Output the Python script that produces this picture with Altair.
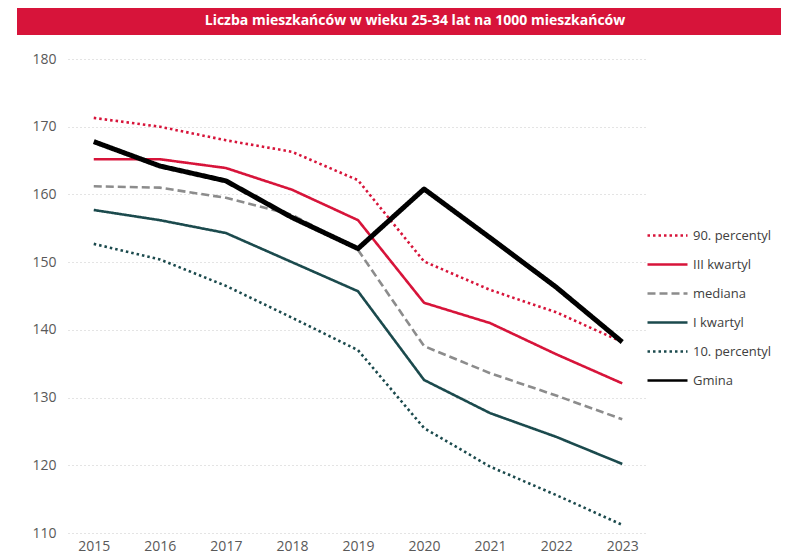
import altair as alt
import pandas as pd

years = [2015, 2016, 2017, 2018, 2019, 2020, 2021, 2022, 2023]
series_names = ["90. percentyl", "III kwartyl", "mediana", "I kwartyl", "10. percentyl", "Gmina"]

p90 = [171.3, 170.0, 168.0, 166.3, 162.1, 150.1, 145.9, 142.6, 138.2]
q3 = [165.2, 165.2, 163.9, 160.7, 156.2, 144.0, 141.0, 136.4, 132.1]
median = [161.2, 161.0, 159.5, 157.0, 151.8, 137.6, 133.6, 130.3, 126.8]
q1 = [157.7, 156.2, 154.3, 150.0, 145.7, 132.6, 127.7, 124.2, 120.2]
p10 = [152.7, 150.4, 146.5, 141.8, 137.0, 125.5, 119.8, 115.6, 111.2]
gmina = [167.8, 164.2, 162.0, 156.6, 152.0, 160.8, 153.6, 146.3, 138.2]

title_text = "Liczba mieszkańców w wieku 25-34 lat na 1000 mieszkańców"

rows = []
for name, vals in zip(series_names, [p90, q3, median, q1, p10, gmina]):
    for y, v in zip(years, vals):
        rows.append({"rok": str(y), "seria": name, "wartosc": v})
df = pd.DataFrame(rows)

RED = "#d7143a"
TEAL = "#1b4a4d"
GRAY = "#8c8c8c"

colors = [RED, RED, GRAY, TEAL, TEAL, "#000000"]
dashes = [[2.5, 3], [1, 0], [8, 4], [1, 0], [2.5, 3], [1, 0]]

legend_kw = dict(title=None, orient="none", legendX=578, legendY=155,
                 symbolType="stroke", symbolSize=1600, symbolStrokeWidth=2.6,
                 labelFontSize=13, labelColor="#404040", labelFont="Open Sans",
                 labelOffset=4, rowPadding=0)

lines = alt.Chart(df).mark_line(strokeCap="butt", strokeJoin="round").encode(
    x=alt.X("rok:O", scale=alt.Scale(type="point", padding=0.39),
            axis=alt.Axis(title=None, labelAngle=0, domain=False, ticks=False,
                          grid=False, labelFontSize=14, labelColor="#595959",
                          labelFont="Open Sans", labelPadding=6)),
    y=alt.Y("wartosc:Q", scale=alt.Scale(domain=[110, 180], nice=False, zero=False),
            axis=alt.Axis(title=None, values=[110, 120, 130, 140, 150, 160, 170, 180],
                          domain=False, ticks=False, grid=True, gridColor="#c8c8c8",
                          gridDash=[1, 3], gridWidth=1, labelFontSize=14,
                          labelColor="#595959", labelFont="Open Sans", labelPadding=12,
                          minExtent=60, maxExtent=60)),
    color=alt.Color("seria:N", scale=alt.Scale(domain=series_names, range=colors),
                    legend=alt.Legend(**legend_kw)),
    strokeDash=alt.StrokeDash("seria:N", scale=alt.Scale(domain=series_names, range=dashes),
                              legend=alt.Legend(**legend_kw)),
    strokeWidth=alt.condition(alt.datum.seria == "Gmina", alt.value(5), alt.value(2.6)),
)

banner_df = pd.DataFrame({"t": [title_text]})
banner = alt.Chart(banner_df).mark_rect(color=RED).encode(
    x=alt.value(-51), x2=alt.value(713), y=alt.value(-51), y2=alt.value(-24)
)
banner_text = alt.Chart(banner_df).mark_text(
    color="white", fontWeight="bold", fontSize=14, font="Open Sans",
    align="center", baseline="middle"
).encode(x=alt.value(347), y=alt.value(-38), text="t:N")

chart = alt.layer(banner, banner_text, lines).properties(
    width=580, height=474,
    autosize=alt.AutoSizeParams(type="none"),
    padding={"left": 60, "top": 51, "right": 133, "bottom": 22},
).configure_view(stroke=None)

chart.save("out.html", embed_options={"renderer": "svg", "actions": False})
